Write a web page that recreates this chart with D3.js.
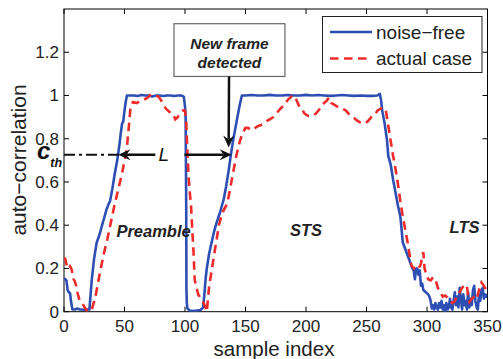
<!DOCTYPE html>
<html><head><meta charset="utf-8">
<script src="https://cdn.jsdelivr.net/npm/d3@7"></script>
<style>body{margin:0;background:#fff} svg{display:block} text{font-family:"Liberation Sans",Arial,Helvetica,sans-serif}</style>
</head><body><svg id="c" width="503" height="359"></svg>
<script>
// ---------- data ----------
const xTicks = [0, 50, 100, 150, 200, 250, 300, 350];
const yTicks = [0, 0.2, 0.4, 0.6, 0.8, 1, 1.2];
const yTickLabels = ["0", "0.2", "0.4", "0.6", "0.8", "1", "1.2"];
const seriesNames = ["noise\u2212free", "actual case"];

const noiseFreeIdx = [0,1,2,3,4,5,6,7,9,11,13,15,17,19,21,22,23,24,25,27,29,31,33,35,37,38,40,42,44,46,47,48,49,50,51,52,55,58,61,64,67,70,73,76,79,82,85,88,91,94,97,99,100,100.5,101,101.2,101.5,102,104,107,110,113,115,116,117,118,120,122,124,126,129,132,134,136,138,140,142,143,145,147,150,155,160,165,170,175,180,185,190,195,200,205,210,215,220,225,230,235,240,245,250,255,259,261,262,263,265,267,268,270,272,274,276,278,279,280,282,284,286,287,288,289,290,291,292,293,294,295,296,297,299,301,302,303,304,305,306,307,308,309,310,311,312,313,314,315,316,317,318,319,320,321,322,323,324,325,326,327,328,329,330,331,332,333,334,335,336,337,338,339,340,341,342,343,344,345,346,347,348,349,350];
const noiseFreeVal = [0.155,0.15,0.145,0.1,0.09,0.085,0.04,0.01,0.01,0.015,0.01,0.01,0.008,0.01,0.01,0.08,0.15,0.2,0.25,0.32,0.35,0.39,0.43,0.47,0.5,0.51,0.57,0.64,0.7,0.78,0.83,0.87,0.88,0.93,0.97,1.0,1.0,1.0,0.998,1.002,1.0,1.0,0.995,1.0,1.0,0.998,1.0,1.0,0.998,1.0,1.0,0.995,0.95,0.9,0.5,0.1,0.04,0.015,0.005,0.003,0.005,0.008,0.02,0.08,0.15,0.2,0.27,0.32,0.37,0.41,0.46,0.52,0.58,0.65,0.73,0.8,0.86,0.89,0.95,1.0,1.0,1.002,1.0,1.0,1.003,1.0,1.0,1.002,1.0,1.0,1.003,1.0,1.002,1.0,0.998,1.0,1.002,1.0,0.998,1.0,0.998,0.998,1.0,1.008,0.98,0.93,0.87,0.79,0.72,0.68,0.61,0.55,0.49,0.44,0.38,0.32,0.29,0.26,0.23,0.215,0.2,0.19,0.15,0.2,0.2,0.17,0.19,0.12,0.13,0.1,0.09,0.08,0.07,0.05,0.015,0.03,0.01,0.04,0.02,0.01,0.04,0.02,0.05,0.01,0.03,0.0,0.04,0.01,0.02,0.06,0.02,0.01,0.05,0.09,0.03,0.07,0.02,0.11,0.06,0.01,0.08,0.03,0.05,0.01,0.09,0.02,0.06,0.03,0.1,0.12,0.05,0.02,0.01,0.08,0.05,0.1,0.11,0.06,0.08,0.07,0.08];

const actualIdx = [0,1,2,3,4,5,6,7,8,9,10,11,12,13,15,17,19,21,23,24,26,28,30,33,36,39,42,45,48,50,52,54,55,57,60,63,66,69,72,75,78,80,82,84,86,88,90,92,94,96,98,100,101,102,103,104,105,106,107,108,109,111,113,115,117,118,119,120,122,124,126,128,130,132,134,136,138,140,142,144,146,148,150,152,155,158,161,164,167,170,173,176,179,182,185,188,190,192,194,196,199,202,205,208,211,214,217,219,221,224,227,230,233,236,239,242,245,248,251,254,257,259,262,264,266,268,270,272,274,276,278,280,282,284,286,287,289,291,293,295,296,297,298,299,301,303,305,307,309,311,313,315,317,319,321,323,325,327,329,331,333,334,335,337,339,341,343,345,347,349,350];
const actualVal = [0.25,0.245,0.22,0.2,0.2,0.21,0.2,0.18,0.15,0.14,0.12,0.09,0.07,0.05,0.04,0.02,0.005,0.0,0.01,0.03,0.07,0.13,0.19,0.27,0.34,0.42,0.5,0.57,0.64,0.7,0.76,0.88,0.95,0.97,0.965,0.975,0.98,0.99,1.005,1.0,0.995,0.98,0.96,0.94,0.93,0.92,0.915,0.89,0.9,0.92,0.93,0.93,0.88,0.74,0.62,0.55,0.49,0.38,0.28,0.15,0.12,0.08,0.06,0.045,0.02,0.0,0.06,0.12,0.19,0.26,0.33,0.4,0.44,0.47,0.49,0.53,0.59,0.65,0.71,0.76,0.8,0.83,0.85,0.85,0.84,0.85,0.86,0.865,0.88,0.89,0.9,0.92,0.94,0.955,0.98,0.995,1.0,0.98,0.955,0.94,0.915,0.905,0.905,0.915,0.935,0.96,0.975,0.99,0.965,0.955,0.945,0.94,0.93,0.91,0.9,0.885,0.875,0.87,0.88,0.9,0.91,0.93,0.94,0.945,0.93,0.86,0.79,0.72,0.66,0.59,0.51,0.44,0.38,0.32,0.25,0.215,0.2,0.21,0.2,0.22,0.26,0.275,0.2,0.18,0.15,0.145,0.16,0.15,0.11,0.09,0.07,0.075,0.065,0.05,0.04,0.05,0.075,0.09,0.11,0.125,0.12,0.07,0.045,0.06,0.07,0.06,0.1,0.135,0.12,0.1,0.09];

const cth = 0.726;

// ---------- layout ----------
const svg = d3.select("#c");
const x = d3.scaleLinear().domain([0, 350]).range([64, 487.5]);
const y = d3.scaleLinear().domain([0, 1.4]).range([311.7, 9]);
const [x0, x1] = x.range(), [y0, y1] = y.range();
const blue = "#2d4fb4", red = "#ee2b2b";

svg.append("defs").append("clipPath").attr("id", "clip")
  .append("rect").attr("x", x0).attr("y", y1).attr("width", x1 - x0).attr("height", y0 - y1);

// box
svg.append("rect").attr("x", x0).attr("y", y1).attr("width", x1 - x0).attr("height", y0 - y1)
  .attr("fill", "#fff").attr("stroke", "#000").attr("stroke-width", 1);

// ticks (inward, all sides)
const tl = 5;
const tg = svg.append("g").attr("stroke", "#000").attr("stroke-width", 1);
xTicks.forEach(t => {
  tg.append("line").attr("x1", x(t)).attr("x2", x(t)).attr("y1", y0).attr("y2", y0 - tl);
  tg.append("line").attr("x1", x(t)).attr("x2", x(t)).attr("y1", y1).attr("y2", y1 + tl);
});
yTicks.forEach(t => {
  tg.append("line").attr("y1", y(t)).attr("y2", y(t)).attr("x1", x0).attr("x2", x0 + tl);
  tg.append("line").attr("y1", y(t)).attr("y2", y(t)).attr("x1", x1).attr("x2", x1 - tl);
});
const lab = svg.append("g").attr("fill", "#222").attr("font-size", 17);
xTicks.forEach(t => lab.append("text").attr("x", x(t)).attr("y", y0 + 20.5).attr("text-anchor", "middle").text(t));
yTicks.forEach((t, i) => lab.append("text").attr("x", x0 - 5).attr("y", y(t) + 6).attr("text-anchor", "end").text(yTickLabels[i]));

svg.append("text").attr("x", 274).attr("y", 355.5).attr("text-anchor", "middle").attr("font-size", 20.5).attr("fill", "#222").text("sample index");
svg.append("text").attr("transform", "translate(26,160) rotate(-90)").attr("text-anchor", "middle").attr("font-size", 21).attr("fill", "#222").text("auto\u2212correlation");

// series
const line = d3.line().x(d => x(d[0])).y(d => y(d[1]));
const nf = noiseFreeIdx.map((v, i) => [v, noiseFreeVal[i]]);
const ac = actualIdx.map((v, i) => [v, actualVal[i]]);
const pg = svg.append("g").attr("clip-path", "url(#clip)");
pg.append("path").datum(nf).attr("d", line).attr("fill", "none").attr("stroke", blue).attr("stroke-width", 2.6).attr("stroke-linejoin", "round");
pg.append("path").datum(ac).attr("d", line).attr("fill", "none").attr("stroke", red).attr("stroke-width", 2.6).attr("stroke-dasharray", "8.5,5.5");

// annotations
const ag = svg.append("g");
function arrowHead(tipX, tipY, dir) {
  const L = 12, W = 5.5, back = 4;
  const c = Math.cos(dir), s = Math.sin(dir);
  const pts = [[0, 0], [-L, -W], [-L + back, 0], [-L, W]].map(([a, b]) => [tipX + a * c - b * s, tipY + a * s + b * c]);
  ag.append("path").attr("d", "M" + pts.map(p => p.join(",")).join("L") + "Z").attr("fill", "#111");
}
// threshold dash-dot
ag.append("line").attr("x1", x(0)).attr("x2", x(44.9) + 6).attr("y1", y(cth)).attr("y2", y(cth))
  .attr("stroke", "#111").attr("stroke-width", 2).attr("stroke-dasharray", "11,4,3,4");
// left arrow
ag.append("line").attr("x1", x(75.5)).attr("x2", x(44.9) + 8).attr("y1", y(cth)).attr("y2", y(cth)).attr("stroke", "#111").attr("stroke-width", 2.5);
arrowHead(x(44.9), y(cth), Math.PI);
// right arrow
ag.append("line").attr("x1", x(99.5)).attr("x2", x(138.6) - 8).attr("y1", y(cth)).attr("y2", y(cth)).attr("stroke", "#111").attr("stroke-width", 2.5);
arrowHead(x(138.6), y(cth), 0);
// L
ag.append("text").attr("x", x(82.5)).attr("y", y(cth) + 6).attr("text-anchor", "middle")
  .attr("font-family", "'Liberation Serif','Times New Roman',serif").attr("font-style", "italic").attr("font-size", 19).attr("fill", "#111").text("L");
// c_th
const ct = ag.append("text").attr("x", 37).attr("y", y(cth) + 4).attr("font-weight", "bold").attr("font-style", "italic").attr("fill", "#111");
ct.append("tspan").attr("font-size", 24).text("c");
ct.append("tspan").attr("font-size", 12.5).attr("dy", 8).text("th");

// new frame box
ag.append("rect").attr("x", x(90.9)).attr("y", y(1.332)).attr("width", x(182.6) - x(90.9)).attr("height", y(1.088) - y(1.332))
  .attr("fill", "#fff").attr("stroke", "#666").attr("stroke-width", 1.2);
const bx = (x(90.9) + x(182.6)) / 2;
ag.append("text").attr("x", bx).attr("y", y(1.332) + 25).attr("text-anchor", "middle").attr("font-weight", "bold").attr("font-style", "italic").attr("font-size", 15.5).attr("fill", "#222").text("New frame");
ag.append("text").attr("x", bx).attr("y", y(1.332) + 44).attr("text-anchor", "middle").attr("font-weight", "bold").attr("font-style", "italic").attr("font-size", 15.5).attr("fill", "#222").text("detected");
ag.append("line").attr("x1", x(136.4)).attr("x2", x(136.1)).attr("y1", y(1.088)).attr("y2", y(0.76) - 8).attr("stroke", "#111").attr("stroke-width", 2.5);
arrowHead(x(136.1), y(0.76), Math.PI / 2);

// region labels
const rl = [["Preamble", 74, 0.345], ["STS", 200, 0.35], ["LTS", 331, 0.365]];
rl.forEach(([t, xv, yv]) => ag.append("text").attr("x", x(xv)).attr("y", y(yv)).attr("text-anchor", "middle")
  .attr("font-weight", "bold").attr("font-style", "italic").attr("font-size", 16.5).attr("fill", "#222").text(t));

// legend
const lg = svg.append("g");
lg.append("rect").attr("x", 322.5).attr("y", 16.5).attr("width", 159.5).attr("height", 56).attr("fill", "#fff").attr("stroke", "#222").attr("stroke-width", 1);
[[blue, null, 32], [red, "8.5,5.5", 58.5]].forEach(([col, dash, ly], i) => {
  const l = lg.append("line").attr("x1", 330).attr("x2", 372).attr("y1", ly).attr("y2", ly).attr("stroke", col).attr("stroke-width", 2.6);
  if (dash) l.attr("stroke-dasharray", dash);
  lg.append("text").attr("x", 376).attr("y", ly + 6.5).attr("font-size", 19).attr("fill", "#222").text(seriesNames[i]);
});
</script></body></html>
